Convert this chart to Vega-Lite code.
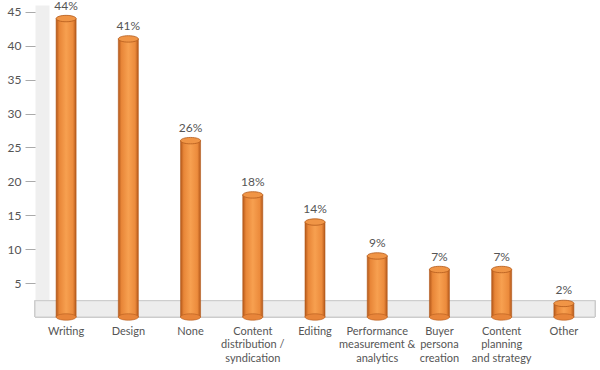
{
  "$schema": "https://vega.github.io/schema/vega-lite/v6.json",
  "width": 560,
  "height": 312,
  "autosize": "none",
  "padding": {"left": 35, "top": 5, "right": 5, "bottom": 53},
  "background": "white",
  "config": {"view": {"stroke": null}, "font": "Lato"},
  "data": {
    "values": [
      {"task": "Writing", "pct": 44, "label": "44%"},
      {"task": "Design", "pct": 41, "label": "41%"},
      {"task": "None", "pct": 26, "label": "26%"},
      {"task": "Content\ndistribution /\nsyndication", "pct": 18, "label": "18%"},
      {"task": "Editing", "pct": 14, "label": "14%"},
      {"task": "Performance\nmeasurement &\nanalytics", "pct": 9, "label": "9%"},
      {"task": "Buyer\npersona\ncreation", "pct": 7, "label": "7%"},
      {"task": "Content\nplanning\nand strategy", "pct": 7, "label": "7%"},
      {"task": "Other", "pct": 2, "label": "2%"}
    ]
  },
  "encoding": {
    "x": {
      "field": "task", "type": "nominal", "sort": null,
      "scale": {"paddingInner": 0, "paddingOuter": 0},
      "axis": {
        "title": null, "labelAngle": 0, "domain": false, "ticks": false,
        "labelPadding": 8, "labelFont": "Lato", "labelFontSize": 11,
        "labelColor": "#555555", "labelLineHeight": 13.5,
        "labelExpr": "split(datum.label, '\\n')"
      }
    },
    "y": {
      "field": "pct", "type": "quantitative",
      "scale": {"domain": [0, 46], "nice": false, "zero": false},
      "axis": {
        "title": null, "values": [5, 10, 15, 20, 25, 30, 35, 40, 45],
        "labelOverlap": false, "labelFlush": false,
        "grid": false, "offset": -7, "domainWidth": 14, "domainColor": "#efefef",
        "tickSize": 17, "tickColor": "#aaaaaa", "labelPadding": 4,
        "labelFont": "Lato", "labelFontSize": 12, "labelColor": "#555555"
      }
    }
  },
  "layer": [
    {
      "mark": {"type": "rect", "fill": "#ededed", "stroke": "#cccccc", "strokeWidth": 1},
      "encoding": {
        "x": null,
        "y": {"datum": 0},
        "y2": {"datum": 2.4}
      }
    },
    {
      "mark": {
        "type": "bar", "size": 20, "strokeWidth": 0.6, "stroke": "#b35a1c",
        "fill": {
          "gradient": "linear", "x1": 0, "x2": 1, "y1": 0, "y2": 0,
          "stops": [
            {"offset": 0, "color": "#b4581a"},
            {"offset": 0.16, "color": "#e88638"},
            {"offset": 0.5, "color": "#f7a050"},
            {"offset": 0.84, "color": "#ec8b3c"},
            {"offset": 1, "color": "#b4581a"}
          ]
        }
      },
      "encoding": {
        "y2": {"datum": 0}
      }
    },
    {
      "mark": {
        "type": "point", "filled": true, "size": 400,
        "shape": "M-1,0 A1,0.32 0 1,1 1,0 A1,0.32 0 1,1 -1,0 Z",
        "fill": "#e8853a", "stroke": "#b35a1c", "strokeWidth": 0.6, "opacity": 1
      },
      "encoding": {"y": {"datum": 0}}
    },
    {
      "mark": {
        "type": "point", "filled": true, "size": 400,
        "shape": "M-1,0 A1,0.32 0 1,1 1,0 A1,0.32 0 1,1 -1,0 Z",
        "fill": "#f09546", "stroke": "#b35a1c", "strokeWidth": 0.8, "opacity": 1
      },
      "encoding": {}
    },
    {
      "mark": {"type": "text", "dy": -13, "font": "Lato", "fontSize": 12, "color": "#555555"},
      "encoding": {
        "text": {"field": "label", "type": "nominal"}
      }
    }
  ]
}
